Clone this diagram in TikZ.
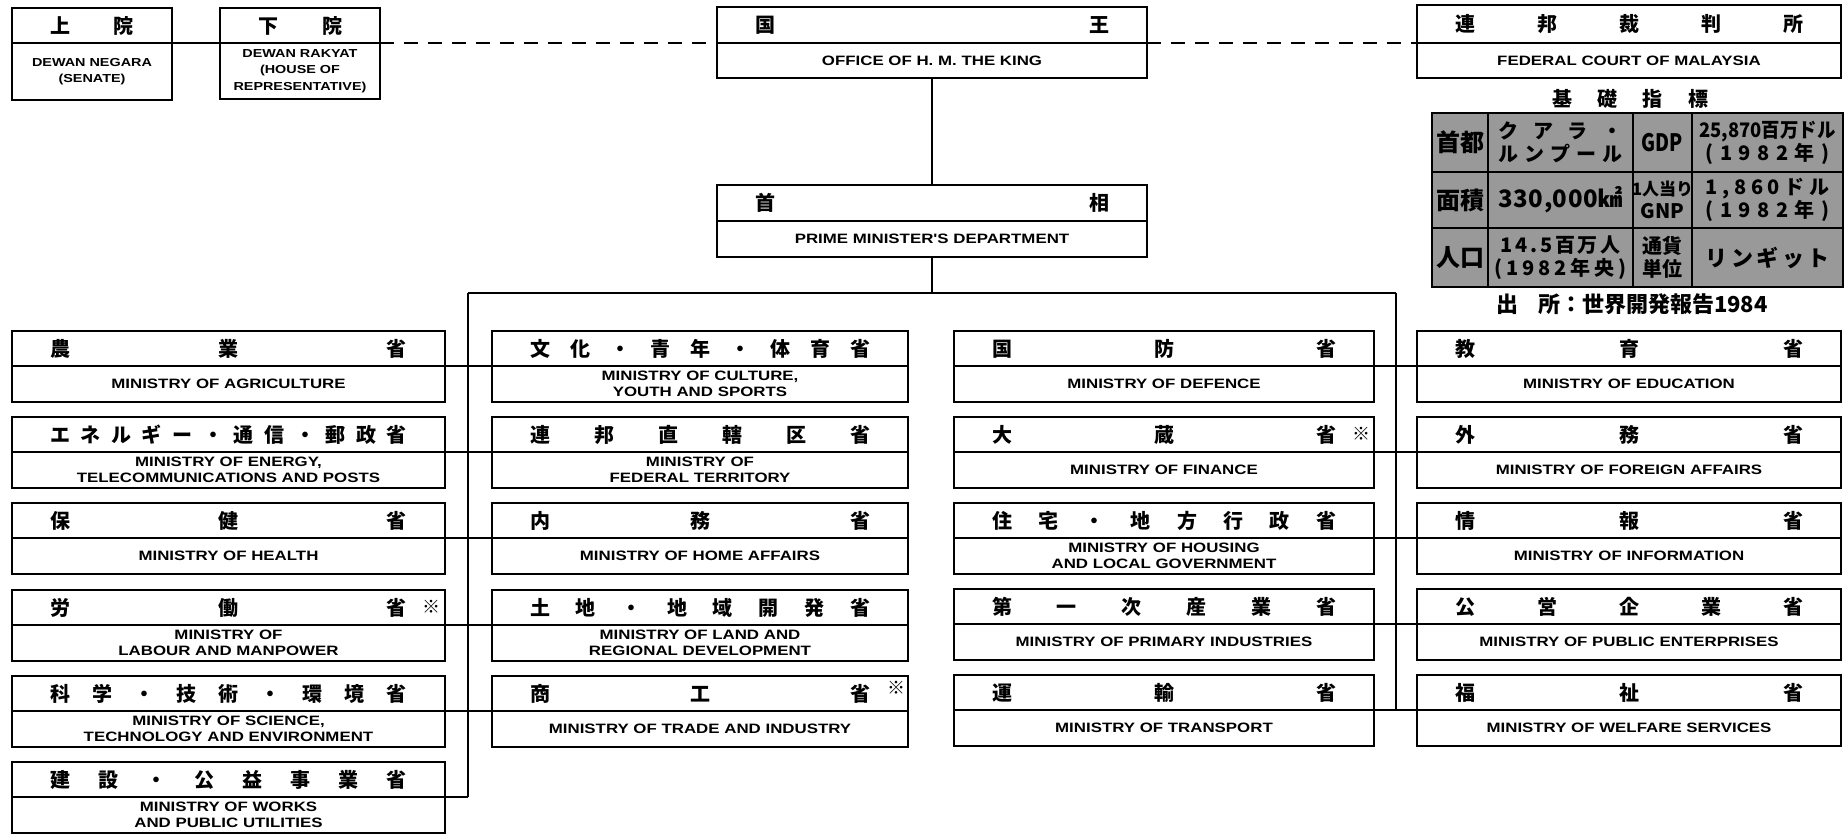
\documentclass[tikz,border=0pt]{standalone}
\usepackage{fontspec}
\usepackage{graphicx}
\usetikzlibrary{calc}
\setmainfont{Liberation Sans}
\newfontfamily\jpf{Noto Sans CJK JP}
\newfontfamily\enf[FakeStretch=1.24]{Liberation Sans}
\definecolor{tblgray}{gray}{0.6}

\tikzset{
  obx/.style={draw, line width=0.9pt, inner sep=0pt, outer sep=0pt, fill=white},
  divline/.style={line width=0.7pt},
  jptxt/.style={font=\jpf\bfseries\fontsize{10}{10}\selectfont, inner sep=0pt},
  entxt/.style={font=\enf\bfseries\fontsize{6.8}{8}\selectfont, align=center, inner sep=0pt},
  enextra/.style={},
  conn/.style={line width=1pt},
  trunk/.style={line width=1.4pt},
  dashln/.style={line width=0.8pt, dash pattern=on 7pt off 5pt},
  astx/.style={font=\jpf\bfseries\fontsize{9}{9}\selectfont, inner sep=0pt},
  cell/.style={font=\jpf\bfseries\fontsize{10}{11.5}\selectfont, align=center, inner sep=0pt},
  tbl/.style={line width=0.9pt},
}

% #1 name, #2 x, #3 y, #4 w, #5 h, #6 header h, #7 jp, #8 en
\newcommand\obox[8]{%
  \node[obx, minimum width=#4*0.5pt, minimum height=#5*0.5pt, anchor=north west] (#1) at (#2,#3) {};
  \coordinate (#1-dw) at ($(#1.north west)+(0,#6)$);
  \coordinate (#1-de) at ($(#1.north east)+(0,#6)$);
  \draw[divline] (#1-dw) -- (#1-de);
  \node[jptxt] (#1-jp) at ($(#1.north)+(0,{#6/2})$) {\hbox to \dimexpr(#4pt-76pt)/2\relax{#7}};
  \node[entxt, enextra] (#1-en) at ($(#1.north)+(0,{(#5+#6)/2})$) {#8};
}

\begin{document}
\begin{tikzpicture}[x=0.5pt, y=-0.5pt]
\fill[white] (0,0) rectangle (1844,834);
\useasboundingbox (0,0) rectangle (1844,834);

% ---- top row ----
\tikzset{enextra/.style={font=\enf\bfseries\fontsize{5.8}{8.2}\selectfont}}
\obox{sen}{12}{8}{160}{92}{35}{上\hfill 院}{DEWAN NEGARA\\(SENATE)}
\obox{hou}{220}{8}{160}{91}{35}{下\hfill 院}{DEWAN RAKYAT\\(HOUSE OF\\REPRESENTATIVE)}
\tikzset{enextra/.style={}}
\obox{king}{717}{7}{430}{71}{36}{国\hfill 王}{OFFICE OF H. M. THE KING}
\obox{pm}{717}{185}{430}{72}{36}{首\hfill 相}{PRIME MINISTER'S DEPARTMENT}
\obox{fed}{1417}{5}{424}{73}{38}{連\hfill 邦\hfill 裁\hfill 判\hfill 所}{FEDERAL COURT OF MALAYSIA}

\draw[conn] (sen-de) -- (hou-dw);
\draw[dashln] (hou-de) -- (king-dw);
\draw[dashln] (king-de) -- (fed-dw);

% ---- indicators table ----
\node[font=\jpf\bfseries\fontsize{10}{10}\selectfont, inner sep=0pt] (ttl) at (1630,99)
  {\hbox to 78pt{基\hfill 礎\hfill 指\hfill 標}};
\fill[tblgray] (1432,113) rectangle (1843,287);
\draw[tbl] (1432,113) rectangle (1843,287);
\draw[tbl] (1488,113) -- (1488,287) (1633,113) -- (1633,287) (1692,113) -- (1692,287)
  (1432,172) -- (1843,172) (1432,228) -- (1843,228);
\node[cell] (c11) at (1460,142.5) {\fontsize{12}{12}\selectfont 首都};
\node[cell] (c12) at (1560.5,142.5) {\hbox to 62pt{ク\hfill ア\hfill ラ\hfill ・}\\\hbox to 62pt{ル\hfill ン\hfill プ\hfill ー\hfill ル}};
\node[cell] (c13) at (1662.5,142.5) {\scalebox{0.8}[1]{\fontsize{12}{12}\selectfont GDP}};
\node[cell] (c14) at (1767.5,142.5) {\scalebox{0.92}[1]{25,870百万ドル}\\\hbox to 62pt{(\hfill 1\hfill 9\hfill 8\hfill 2\hfill 年\hfill )}};
\node[cell] (c21) at (1460,200) {\fontsize{12}{12}\selectfont 面積};
\node[cell] (c22) at (1560.5,200) {\fontsize{12}{12}\selectfont\hbox to 62pt{3\hfill 3\hfill 0\hfill ,\hfill 0\hfill 0\hfill 0\hfill ㎢}};
\node[cell] (c23) at (1662.5,200) {\fontsize{8.5}{10.5}\selectfont 1人当り\\GNP};
\node[cell] (c24) at (1767.5,200) {\hbox to 62pt{1\hfill ,\hfill 8\hfill 6\hfill 0\hfill ド\hfill ル}\\\hbox to 62pt{(\hfill 1\hfill 9\hfill 8\hfill 2\hfill 年\hfill )}};
\node[cell] (c31) at (1460,257.5) {\fontsize{12}{12}\selectfont 人口};
\node[cell] (c32) at (1560.5,257.5) {\hbox to 60pt{1\hfill 4\hfill .\hfill 5\hfill 百\hfill 万\hfill 人}\\\hbox to 66pt{(\hfill 1\hfill 9\hfill 8\hfill 2\hfill 年\hfill 央\hfill )}};
\node[cell] (c33) at (1662.5,257.5) {通貨\\単位};
\node[cell] (c34) at (1767.5,257.5) {\fontsize{11}{11}\selectfont\hbox to 62pt{リ\hfill ン\hfill ギ\hfill ッ\hfill ト}};
\node[font=\jpf\bfseries\fontsize{11}{11}\selectfont, inner sep=0pt] (src) at (1632,304)
  {出\hspace{0.9em}所：世界開発報告1984};

% ---- column 1 ----
\obox{agr}{12}{331}{433}{71}{35}{農\hfill 業\hfill 省}{MINISTRY OF AGRICULTURE}
\obox{ene}{12}{417}{433}{71}{35}{エ\hfill ネ\hfill ル\hfill ギ\hfill ー\hfill ・\hfill 通\hfill 信\hfill ・\hfill 郵\hfill 政\hfill 省}{MINISTRY OF ENERGY,\\TELECOMMUNICATIONS AND POSTS}
\obox{hea}{12}{503}{433}{71}{35}{保\hfill 健\hfill 省}{MINISTRY OF HEALTH}
\obox{lab}{12}{590}{433}{71}{35}{労\hfill 働\hfill 省}{MINISTRY OF\\LABOUR AND MANPOWER}
\obox{sci}{12}{676}{433}{71}{35}{科\hfill 学\hfill ・\hfill 技\hfill 術\hfill ・\hfill 環\hfill 境\hfill 省}{MINISTRY OF SCIENCE,\\TECHNOLOGY AND ENVIRONMENT}
\obox{wrk}{12}{762}{433}{71}{35}{建\hfill 設\hfill ・\hfill 公\hfill 益\hfill 事\hfill 業\hfill 省}{MINISTRY OF WORKS\\AND PUBLIC UTILITIES}

% ---- column 2 ----
\obox{cul}{492}{331}{416}{71}{35}{文\hfill 化\hfill ・\hfill 青\hfill 年\hfill ・\hfill 体\hfill 育\hfill 省}{MINISTRY OF CULTURE,\\YOUTH AND SPORTS}
\obox{ter}{492}{417}{416}{71}{35}{連\hfill 邦\hfill 直\hfill 轄\hfill 区\hfill 省}{MINISTRY OF\\FEDERAL TERRITORY}
\obox{hom}{492}{503}{416}{71}{35}{内\hfill 務\hfill 省}{MINISTRY OF HOME AFFAIRS}
\obox{lnd}{492}{590}{416}{71}{35}{土\hfill 地\hfill ・\hfill 地\hfill 域\hfill 開\hfill 発\hfill 省}{MINISTRY OF LAND AND\\REGIONAL DEVELOPMENT}
\obox{trd}{492}{676}{416}{71}{35}{商\hfill 工\hfill 省}{MINISTRY OF TRADE AND INDUSTRY}

% ---- column 3 ----
\obox{def}{954}{331}{420}{71}{35}{国\hfill 防\hfill 省}{MINISTRY OF DEFENCE}
\obox{fin}{954}{417}{420}{71}{35}{大\hfill 蔵\hfill 省}{MINISTRY OF FINANCE}
\obox{hsg}{954}{503}{420}{71}{35}{住\hfill 宅\hfill ・\hfill 地\hfill 方\hfill 行\hfill 政\hfill 省}{MINISTRY OF HOUSING\\AND LOCAL GOVERNMENT}
\obox{pri}{954}{589}{420}{71}{35}{第\hfill 一\hfill 次\hfill 産\hfill 業\hfill 省}{MINISTRY OF PRIMARY INDUSTRIES}
\obox{trn}{954}{675}{420}{71}{35}{運\hfill 輸\hfill 省}{MINISTRY OF TRANSPORT}

% ---- column 4 ----
\obox{edu}{1417}{331}{424}{71}{35}{教\hfill 育\hfill 省}{MINISTRY OF EDUCATION}
\obox{frn}{1417}{417}{424}{71}{35}{外\hfill 務\hfill 省}{MINISTRY OF FOREIGN AFFAIRS}
\obox{inf}{1417}{503}{424}{71}{35}{情\hfill 報\hfill 省}{MINISTRY OF INFORMATION}
\obox{pub}{1417}{589}{424}{71}{35}{公\hfill 営\hfill 企\hfill 業\hfill 省}{MINISTRY OF PUBLIC ENTERPRISES}
\obox{wel}{1417}{675}{424}{71}{35}{福\hfill 祉\hfill 省}{MINISTRY OF WELFARE SERVICES}

% asterisks
\node[astx] (lab-ast) at ($(lab.north east)+(-14,17)$) {※};
\node[astx] (fin-ast) at ($(fin.north east)+(-13,17)$) {※};
\node[astx] (trd-ast) at ($(trd.north east)+(-12,12)$) {※};

% ---- trunk lines ----
\coordinate (lt) at (468,293);
\coordinate (rt) at (1396,293);
\draw[trunk] (king.south) -- (pm.north);
\draw[trunk] (pm.south) -- (pm.south |- lt);
\draw[trunk] (lt) -- (rt);
\draw[trunk] (lt) -- (lt |- wrk-de);
\draw[trunk] (rt) -- (rt |- wel-dw);

\foreach \b in {agr,ene,hea,lab,sci,wrk} { \draw[conn] (\b-de) -- (\b-de -| lt); }
\foreach \b in {cul,ter,hom,lnd,trd} { \draw[conn] (\b-dw) -- (\b-dw -| lt); }
\foreach \b in {def,fin,hsg,pri,trn} { \draw[conn] (\b-de) -- (\b-de -| rt); }
\foreach \b in {edu,frn,inf,pub,wel} { \draw[conn] (\b-dw) -- (\b-dw -| rt); }
\end{tikzpicture}
\end{document}
